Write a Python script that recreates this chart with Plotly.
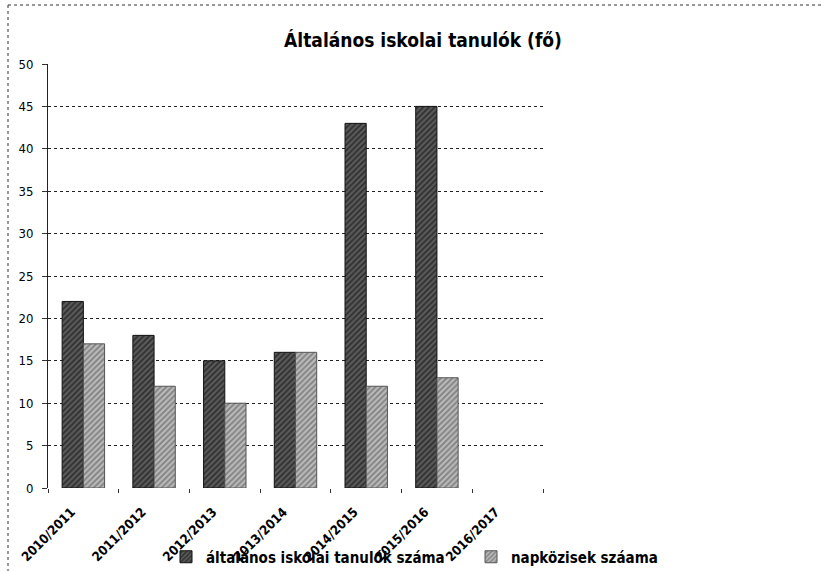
import plotly.graph_objects as go

categories = ["2010/2011", "2011/2012", "2012/2013", "2013/2014", "2014/2015", "2015/2016", "2016/2017"]
tanulok = [22, 18, 15, 16, 43, 45, None]
napkozisek = [17, 12, 10, 16, 12, 13, None]
y_ticks = list(range(0, 51, 5))

FONT = "DejaVu Sans Condensed, Liberation Sans Narrow, Arial Narrow, sans-serif"

fig = go.Figure()
fig.add_trace(go.Bar(
    x=categories, y=tanulok, name="<b>általános iskolai tanulók száma</b>", legend="legend",
    marker=dict(color="#3a3a3a", line=dict(color="#111111", width=1),
                pattern=dict(shape="/", fgcolor="#000000", bgcolor="#5a5a5a", size=4, solidity=0.4)),
))
fig.add_trace(go.Bar(
    x=categories, y=napkozisek, name="<b>napközisek száama</b>", legend="legend2",
    marker=dict(color="#8a8a8a", line=dict(color="#555555", width=1),
                pattern=dict(shape="/", fgcolor="#444444", bgcolor="#b8b8b8", size=4, solidity=0.4)),
))

leg_common = dict(orientation="h", xref="container", yref="container", yanchor="middle",
                  xanchor="left", font=dict(size=15, family=FONT), itemwidth=30,
                  bgcolor="rgba(0,0,0,0)")

W, H = 826, 571
L, R, T, B = 48, 283, 64, 83
PW, PH = W - L - R, H - T - B

fig.update_layout(
    width=W, height=H,
    margin=dict(l=L, r=R, t=T, b=B, autoexpand=False),
    paper_bgcolor="white", plot_bgcolor="white",
    barmode="group", bargap=0.4, bargroupgap=0,
    font=dict(family=FONT, size=12, color="black"),
    title=dict(text="<b>Általános iskolai tanulók (fő)</b>", x=423/W, xanchor="center",
               xref="container", y=1-40/H, yref="container", yanchor="middle",
               font=dict(size=19, family=FONT)),
    showlegend=True,
    legend=dict(leg_common, x=166/W, y=1-557/H),
    legend2=dict(leg_common, x=471/W, y=1-557/H),
    xaxis=dict(type="category", tickangle=-45, showgrid=False, automargin=False,
               showline=False, tickson="boundaries",
               ticks="outside", ticklen=4, tickcolor="#333",
               ticklabelshift=-12, ticklabelstandoff=13,
               tickfont=dict(size=13, family=FONT), tickprefix="<b>", ticksuffix="</b>",
               range=[-0.5, 6.5]),
    yaxis=dict(range=[0, 50], tickvals=y_ticks, showgrid=True, automargin=False,
               gridcolor="#222", griddash="dot", gridwidth=1,
               showline=True, linecolor="#222", linewidth=1,
               ticks="outside", ticklen=5, tickcolor="#333", ticklabelstandoff=6,
               tickfont=dict(size=13, family=FONT), tickprefix="<b>", ticksuffix="</b>",
               zeroline=False),
    shapes=[
        dict(type="line", xref="paper", yref="paper", x0=(8-L)/PW, x1=(W-4-L)/PW,
             y0=(H-B-5)/PH, y1=(H-B-5)/PH, line=dict(color="#333", width=1, dash="dot")),
        dict(type="line", xref="paper", yref="paper", x0=(8-L)/PW, x1=(8-L)/PW,
             y0=(H-B-5)/PH, y1=-B/PH, line=dict(color="#333", width=1, dash="dot")),
    ],
)

fig.write_html("out.html", config={"displayModeBar": False},
               post_script="document.body.style.margin='0';document.body.style.overflow='hidden';")
